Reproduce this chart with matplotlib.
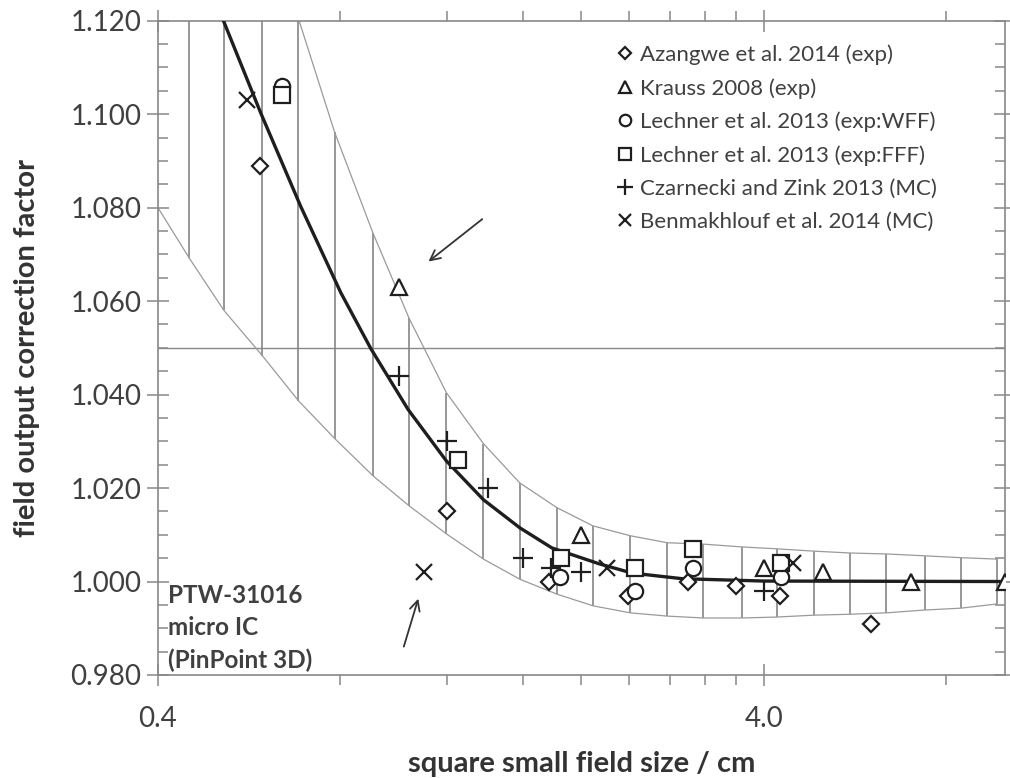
import numpy as np
import matplotlib.pyplot as plt
from matplotlib.ticker import FixedLocator, FixedFormatter, MultipleLocator, FormatStrFormatter

plt.rcParams['font.family'] = ['Lato', 'DejaVu Sans']

# fitted k-factor curve (square field side in cm)
fit_x = [0.513, 0.5905, 0.6879, 0.8014, 0.8986, 1.035, 1.197, 1.378, 1.582, 1.787,
         2.138, 2.425, 2.936, 4.0, 10.0]
fit_k = [1.1200, 1.1004, 1.0803, 1.0618, 1.0498, 1.0368, 1.0258, 1.0175, 1.0115, 1.0072,
         1.0038, 1.0018, 1.0006, 1.0001, 1.0000]

# uncertainty band around the fit
band_x = [0.40, 0.450, 0.514, 0.595, 0.682, 0.783, 0.906, 1.039, 1.197, 1.378, 1.582, 1.822,
          2.090, 2.407, 2.77, 3.18, 3.68, 4.20, 4.84, 5.56, 6.37, 7.37, 8.46, 9.70]
band_lo = [1.0800, 1.0693, 1.0580, 1.0483, 1.0387, 1.0306, 1.0226, 1.0162, 1.0102, 1.0048, 1.0005, 0.9973,
           0.9948, 0.9933, 0.9926, 0.9922, 0.9922, 0.9924, 0.9928, 0.9930, 0.9933, 0.9939, 0.9943, 0.9952]
band_hi = [1.260, 1.222, 1.185, 1.151, 1.1205, 1.0961, 1.0745, 1.0563, 1.0404, 1.0295, 1.0211, 1.0158,
           1.0119, 1.0098, 1.0083, 1.0080, 1.0074, 1.0070, 1.0065, 1.0061, 1.0059, 1.0055, 1.0051, 1.0048]

# published data sets
azangwe_x = [0.59, 1.2, 1.77, 2.39, 3.0, 3.6, 4.25, 6.0]
azangwe_k = [1.089, 1.015, 1.000, 0.997, 1.000, 0.999, 0.997, 0.991]
krauss_x = [1.0, 2.0, 4.0, 5.0, 7.0, 10.0]
krauss_k = [1.063, 1.010, 1.003, 1.002, 1.000, 1.000]
lechner_wff_x = [0.64, 1.84, 2.45, 3.06, 4.27]
lechner_wff_k = [1.106, 1.001, 0.998, 1.003, 1.001]
lechner_fff_x = [0.64, 1.25, 1.85, 2.45, 3.06, 4.27]
lechner_fff_k = [1.104, 1.026, 1.005, 1.003, 1.007, 1.004]
czarnecki_x = [1.0, 1.2, 1.4, 1.6, 1.78, 2.0, 4.0]
czarnecki_k = [1.044, 1.030, 1.020, 1.005, 1.003, 1.002, 0.998]
benmakhlouf_x = [0.56, 1.1, 2.2, 4.47]
benmakhlouf_k = [1.103, 1.002, 1.003, 1.004]

fig = plt.figure(figsize=(10.1, 7.78), dpi=100)
ax = fig.add_axes([0.1564, 0.1324, 0.8386, 0.841])
ax.set_xscale('log')

ax.axhline(1.05, color='#888888', lw=1.0, zorder=1)

ax.vlines(band_x[1:], band_lo[1:], band_hi[1:], color='#858585', lw=1.2, zorder=1)
ax.plot(band_x, band_lo, color='#9a9a9a', lw=0.9, zorder=1)
ax.plot(band_x, band_hi, color='#9a9a9a', lw=0.9, zorder=1)

ax.plot(fit_x, fit_k, color='#1e1e1e', lw=2.4, zorder=3, solid_joinstyle='round')

mk = dict(ls='none', mfc='white', mec='#1e1e1e', mew=1.6, zorder=4)
ax.plot(azangwe_x, azangwe_k, marker='D', ms=8.5, label='Azangwe et al. 2014 (exp)', **mk)
ax.plot(krauss_x, krauss_k, marker='^', ms=12, label='Krauss 2008 (exp)', **mk)
ax.plot(lechner_wff_x, lechner_wff_k, marker='o', ms=11, label='Lechner et al. 2013 (exp:WFF)', **mk)
ax.plot(lechner_fff_x, lechner_fff_k, marker='s', ms=11, label='Lechner et al. 2013 (exp:FFF)', **mk)
ax.plot(czarnecki_x, czarnecki_k, marker='+', ms=15, label='Czarnecki and Zink 2013 (MC)', **mk)
ax.plot(benmakhlouf_x, benmakhlouf_k, marker='x', ms=12, label='Benmakhlouf et al. 2014 (MC)', **mk)

ax.set_xlim(0.4, 10.0)
ax.set_ylim(0.98, 1.12)

ax.xaxis.set_major_locator(FixedLocator([0.4, 4.0]))
ax.xaxis.set_major_formatter(FixedFormatter(['0.4', '4.0']))
ax.xaxis.set_minor_locator(FixedLocator([0.8, 1.2, 1.6, 2.0, 2.4, 2.8, 3.2, 3.6, 8.0]))
ax.xaxis.set_minor_formatter(FixedFormatter([]))
ax.yaxis.set_major_locator(MultipleLocator(0.02))
ax.yaxis.set_major_formatter(FormatStrFormatter('%.3f'))
ax.yaxis.set_minor_locator(MultipleLocator(0.005))

ax.tick_params(axis='x', which='major', direction='inout', length=16, width=1.1, color='#888888',
               top=True, bottom=True, labelsize=20, labelcolor='#404040', pad=14)
ax.tick_params(axis='x', which='minor', direction='out', length=7, width=1.1, color='#888888',
               top=True, bottom=True)
ax.tick_params(axis='y', which='major', direction='inout', length=16, width=1.1, color='#888888',
               left=True, right=True, labelsize=20, labelcolor='#404040', pad=4)
ax.tick_params(axis='y', which='minor', direction='in', length=7, width=1.1, color='#888888',
               left=True, right=True)
for s in ax.spines.values():
    s.set_color('#888888')
    s.set_linewidth(1.2)

ax.set_xlabel('square small field size / cm', fontsize=21, fontweight='bold', color='#333333', labelpad=14)
ax.set_ylabel('field output correction factor', fontsize=21, fontweight='bold', color='#333333', labelpad=22)

ax.text(0.012, 0.004, 'PTW-31016\nmicro IC\n(PinPoint 3D)', transform=ax.transAxes, fontsize=17.5,
        fontweight='bold', color='#404040', ha='left', va='bottom', linespacing=1.48)

arrow = dict(arrowstyle='->', color='#333333', lw=1.3, mutation_scale=18)
ax.annotate('', xy=(1.109, 1.0681), xytext=(1.383, 1.0779), arrowprops=arrow)
ax.annotate('', xy=(1.079, 0.9969), xytext=(1.015, 0.9855), arrowprops=arrow)

ax.legend(loc='upper left', bbox_to_anchor=(0.53, 0.977), frameon=False, fontsize=16,
          markerscale=0.75, handlelength=0.8, handletextpad=0.3, labelspacing=0.58,
          labelcolor='#404040', borderaxespad=0)

fig.savefig('out.png', dpi=100)
